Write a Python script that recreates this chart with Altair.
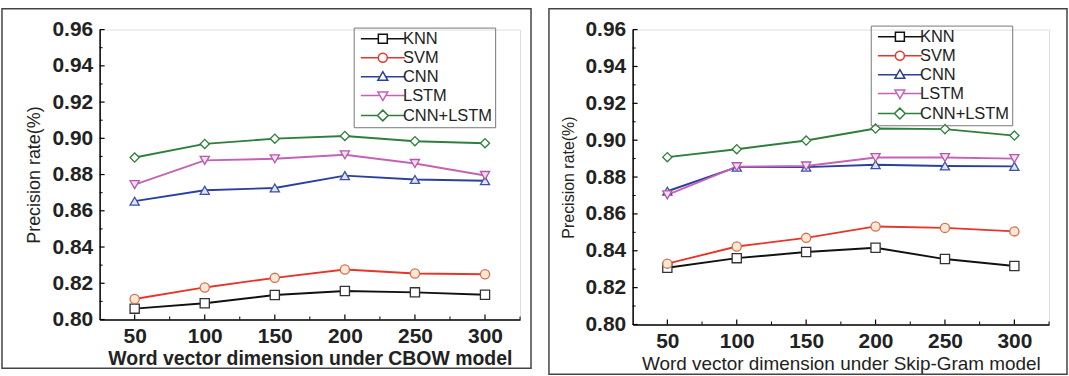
import altair as alt
import pandas as pd

dims = [50, 100, 150, 200, 250, 300]
models = ["KNN", "SVM", "CNN", "LSTM", "CNN+LSTM"]

knn_cbow = [0.806, 0.809, 0.8135, 0.8157, 0.815, 0.8137]
svm_cbow = [0.8113, 0.8177, 0.823, 0.8276, 0.8254, 0.825]
cnn_cbow = [0.8653, 0.8713, 0.8726, 0.8794, 0.8773, 0.8766]
lstm_cbow = [0.8744, 0.8878, 0.8887, 0.8909, 0.8861, 0.8795]
cnnlstm_cbow = [0.8894, 0.8969, 0.8998, 0.9013, 0.8984, 0.8973]

knn_sg = [0.8308, 0.836, 0.8393, 0.8416, 0.8355, 0.8317]
svm_sg = [0.833, 0.8423, 0.847, 0.8532, 0.8524, 0.8505]
cnn_sg = [0.8723, 0.8854, 0.8854, 0.8867, 0.886, 0.8858]
lstm_sg = [0.8703, 0.8856, 0.886, 0.8906, 0.8906, 0.89]
cnnlstm_sg = [0.8908, 0.8951, 0.8998, 0.9063, 0.906, 0.9025]

y_major = [0.80, 0.82, 0.84, 0.86, 0.88, 0.90, 0.92, 0.94, 0.96]
y_minor = [0.81, 0.83, 0.85, 0.87, 0.89, 0.91, 0.93, 0.95]
x_major = [50, 100, 150, 200, 250, 300]
x_minor = [75, 125, 175, 225, 275, 325]

line_colors = ["#111111", "#e8352b", "#2b3f9e", "#c462b6", "#2e7f3b"]
marker_strokes = ["#333333", "#c8764e", "#3e50a8", "#b25aa8", "#2e7f3b"]
marker_fills = ["#ffffff", "#fde6d6", "#dfe6f7", "#f6ddf2", "#ffffff"]
point_shapes = ["square", "circle", "triangle-up", "triangle-down", "diamond"]
legend_paths = [
    "M-4.9,0H-1M1,0H4.9M-1,-1H1V1H-1Z",
    "M-4.9,0H-1M1,0H4.9M-1,0A1,1,0,1,1,1,0A1,1,0,1,1,-1,0Z",
    "M-4.9,0H-0.64M0.64,0H4.9M0,-1.1L1.1,0.8H-1.1Z",
    "M-4.9,0H-0.64M0.64,0H4.9M0,1.1L1.1,-0.8H-1.1Z",
    "M-4.9,0H-1.2M1.2,0H4.9M0,-1.2L1.2,0L0,1.2L-1.2,0Z",
]

FONT = "Liberation Sans"


def make_df(series):
    rows = []
    for m, vals in zip(models, series):
        for d, v in zip(dims, vals):
            rows.append({"dim": d, "prec": v, "Model": m})
    return pd.DataFrame(rows)


def panel(series, width, height, xtitle, xbold, ytitle_size, ytitle_x,
          legend_x, legend_y, frame):
    df = make_df(series)
    xscale = alt.Scale(domain=[25, 325], nice=False, zero=False)
    yscale = alt.Scale(domain=[0.80, 0.96], nice=False, zero=False)
    xaxis = alt.Axis(values=x_major, title=xtitle, grid=False, ticks=False,
                     labelFont=FONT, labelFontSize=21, labelFontWeight="bold",
                     labelColor="#222222", labelPadding=6, labelFlush=False,
                     labelOverlap=False, domainColor="#000000", domainWidth=1.5,
                     titleFont=FONT, titleFontSize=19.5 if xbold else 19,
                     titleFontWeight="bold" if xbold else "normal",
                     titleColor="#222222", titleY=39, titleBaseline="middle")
    yaxis = alt.Axis(values=y_major, format=".2f", title="Precision rate(%)",
                     grid=False, ticks=False, labelFont=FONT, labelFontSize=21,
                     labelFontWeight="bold", labelColor="#222222", labelPadding=7,
                     labelFlush=False, labelOverlap=False,
                     domainColor="#000000", domainWidth=1.5, titleFont=FONT,
                     titleFontSize=ytitle_size, titleFontWeight="normal",
                     titleColor="#222222", titleX=ytitle_x, titleY=height / 2,
                     titleBaseline="middle")

    base = alt.Chart(df)
    lines = base.mark_line(strokeWidth=1.9).encode(
        x=alt.X("dim:Q", scale=xscale, axis=xaxis),
        y=alt.Y("prec:Q", scale=yscale, axis=yaxis),
        color=alt.Color("Model:N", scale=alt.Scale(domain=models, range=line_colors), legend=None),
        detail="Model:N",
    )
    points = base.mark_point(filled=False, size=85, strokeWidth=1.3, opacity=1).encode(
        x=alt.X("dim:Q", scale=xscale, axis=xaxis),
        y=alt.Y("prec:Q", scale=yscale, axis=yaxis),
        shape=alt.Shape("Model:N", scale=alt.Scale(domain=models, range=point_shapes), legend=None),
        stroke=alt.Stroke("Model:N", scale=alt.Scale(domain=models, range=marker_strokes), legend=None),
        fill=alt.Fill("Model:N", scale=alt.Scale(domain=models, range=marker_fills), legend=None),
    )

    leg_opts = dict(title=None, orient="none", legendX=legend_x,
                    legendY=legend_y, symbolSize=81,
                    symbolStrokeWidth=1.5, symbolOpacity=1,
                    symbolOffset=18, labelOffset=12,
                    labelFont=FONT, labelFontSize=16.5,
                    labelColor="#222222", rowPadding=2,
                    strokeColor="#777777", padding=3,
                    symbolFillColor="#ffffff")
    leg_df = pd.DataFrame({"L": models})
    leg = alt.Chart(leg_df).mark_point(opacity=0, filled=False).encode(
        shape=alt.Shape("L:N", scale=alt.Scale(domain=models, range=legend_paths),
                        legend=alt.Legend(**leg_opts)),
        color=alt.Color("L:N", scale=alt.Scale(domain=models, range=line_colors),
                        legend=alt.Legend(**leg_opts)),
    )

    ymaj = alt.Chart(pd.DataFrame({"prec": y_major})).mark_rule(color="#000000", strokeWidth=1.2).encode(
        y=alt.Y("prec:Q", scale=yscale, axis=yaxis), x=alt.value(0), x2=alt.value(5))
    ymin = alt.Chart(pd.DataFrame({"prec": y_minor})).mark_rule(color="#000000", strokeWidth=1.0).encode(
        y=alt.Y("prec:Q", scale=yscale, axis=yaxis), x=alt.value(0), x2=alt.value(3))
    xmaj = alt.Chart(pd.DataFrame({"dim": x_major})).mark_rule(color="#000000", strokeWidth=1.2).encode(
        x=alt.X("dim:Q", scale=xscale, axis=xaxis), y=alt.value(height), y2=alt.value(height - 5))
    xmin = alt.Chart(pd.DataFrame({"dim": x_minor})).mark_rule(color="#000000", strokeWidth=1.0).encode(
        x=alt.X("dim:Q", scale=xscale, axis=xaxis), y=alt.value(height), y2=alt.value(height - 3))

    fx1, fx2, fy1, fy2 = frame
    box = alt.Chart(pd.DataFrame({"k": [0]})).mark_rect(
        fill="transparent", stroke="#444444", strokeWidth=1.5).encode(
        x=alt.value(fx1), x2=alt.value(fx2), y=alt.value(fy1), y2=alt.value(fy2))

    return alt.layer(box, lines, points, ymaj, ymin, xmaj, xmin, leg).resolve_scale(
        color="independent", shape="independent", fill="independent", stroke="independent"
    ).properties(width=width, height=height)


left = panel([knn_cbow, svm_cbow, cnn_cbow, lstm_cbow, cnnlstm_cbow], 422, 291,
             "Word vector dimension under CBOW model", True, 18, -65,
             255, -2, (-98, 433, -21, 340))
right = panel([knn_sg, svm_sg, cnn_sg, lstm_sg, cnnlstm_sg], 418, 296,
              "Word vector dimension under Skip-Gram model", False, 16, -64,
              239, -4, (-84, 436, -21, 346))

chart = alt.hconcat(left, right, spacing=14).properties(
    padding={"left": 0, "top": 6, "right": 0, "bottom": 0}
).configure_view(stroke="transparent").configure(background="white")

chart.save("out.html", embed_options={"renderer": "svg", "actions": False})
